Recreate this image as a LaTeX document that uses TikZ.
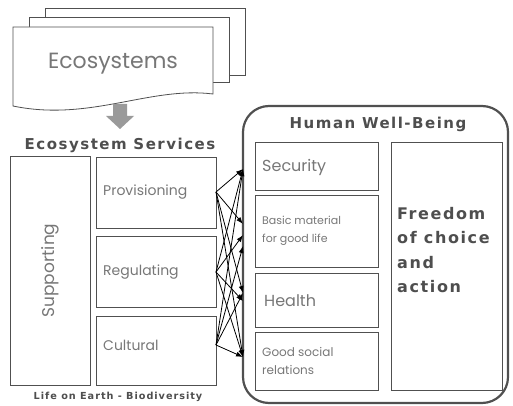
\documentclass[tikz,border=0pt]{standalone}
\usepackage{fontspec}
\setmainfont{Poppins}
\newfontfamily\headfont[LetterSpace=10]{DejaVu Sans}
\usetikzlibrary{arrows.meta}

\definecolor{txtgray}{HTML}{777777}
\definecolor{headgray}{HTML}{4E4E4E}
\definecolor{linegray}{HTML}{505050}
\definecolor{arrowgray}{HTML}{9A9A9A}

\tikzset{
  box/.style={draw=linegray, line width=0.8pt, inner sep=0pt},
  lbl/.style={text=txtgray, align=left, inner sep=0pt},
  head/.style={text=headgray, font=\headfont\bfseries, inner sep=0pt},
  page/.style={draw=linegray, line width=0.8pt, fill=white},
  link/.style={-{Latex[length=7pt,width=5pt]}, line width=0.8pt},
}

\begin{document}
\begin{tikzpicture}[x=1pt, y=-1pt]
  \useasboundingbox (0,0) rectangle (513,406);
  % ecosystems stack
  \draw[page] (45,8) rectangle (245,75);
  \draw[page] (29,17) rectangle (229,82);
  \draw[page] (13,27) -- (213,27) -- (213,94)
    .. controls (150,86) and (90,122) .. (13,106) -- cycle;
  \node[lbl, font=\fontsize{22}{24}\selectfont] (eco) at (113,64) {Ecosystems};
  \fill[arrowgray] (113,104) -- (127,104) -- (127,116) -- (134,116)
    -- (120,129) -- (106,116) -- (113,116) -- cycle;

  % services
  \node[head, font=\headfont\bfseries\fontsize{15}{17}\selectfont] (services) at (120,145) {Ecosystem Services};
  \node[box, minimum width=80, minimum height=229] (supp) at (50,270.5) {};
  \node[lbl, rotate=90, font=\fontsize{17}{19}\selectfont] at (supp) {Supporting};
  \node[box, minimum width=120, minimum height=71] (prov) at (156,192.5) {};
  \node[box, minimum width=120, minimum height=71] (reg) at (156,271.5) {};
  \node[box, minimum width=120, minimum height=69] (cult) at (156,350.5) {};
  \node[lbl, anchor=west, font=\fontsize{14}{16}\selectfont] at (103,192) {Provisioning};
  \node[lbl, anchor=west, font=\fontsize{14}{16}\selectfont] at (103,272) {Regulating};
  \node[lbl, anchor=west, font=\fontsize{14}{16}\selectfont] at (103,345) {Cultural};
  \node[head, font=\headfont\bfseries\fontsize{9.7}{11}\selectfont] (life) at (118,397) {Life on Earth - Biodiversity};

  % well-being
  \draw[linegray, line width=2.2pt, rounded corners=26] (243,106) rectangle (508,403);
  \node[head, font=\headfont\bfseries\fontsize{15}{17}\selectfont] (hwb) at (378,124) {Human Well-Being};
  \node[box, minimum width=123, minimum height=48] (sec) at (316.5,166) {};
  \node[box, minimum width=123, minimum height=72] (basic) at (316.5,231) {};
  \node[box, minimum width=123, minimum height=54] (health) at (316.5,300) {};
  \node[box, minimum width=123, minimum height=58] (social) at (316.5,361) {};
  \node[box, minimum width=111, minimum height=248] (free) at (446.5,266) {};
  \node[lbl, anchor=west, font=\fontsize{16}{18}\selectfont] at (262,167) {Security};
  \node[lbl, anchor=west, font=\fontsize{11}{18}\selectfont] at (262,231) {Basic material\\for good life};
  \node[lbl, anchor=west, font=\fontsize{16}{18}\selectfont] at (264,301) {Health};
  \node[lbl, anchor=west, font=\fontsize{12}{18}\selectfont] at (262,361) {Good social\\relations};
  \node[head, anchor=north west, font=\headfont\bfseries\fontsize{16}{24.5}\selectfont, align=left]
    (freetxt) at (397,207) {Freedom\\of choice\\and\\action};

  % links
  \coordinate (a) at (216,192);
  \coordinate (b) at (216,272);
  \coordinate (c) at (216,345);
  \coordinate (t1) at (243,169);
  \coordinate (t2) at (243,224);
  \coordinate (t3) at (243,235);
  \coordinate (t4) at (243,246);
  \coordinate (t5) at (243,293);
  \coordinate (t6) at (243,301);
  \coordinate (t7) at (243,357);
  \begin{scope}[link]
    \draw (a) to (t1);
    \draw (a) to (t2);
    \draw (a) to (t5);
    \draw (a) to (t7);
    \draw (b) to (t1);
    \draw (b) to (t3);
    \draw (b) to (t6);
    \draw (b) to (t7);
    \draw (c) to (t1);
    \draw (c) to (t4);
    \draw (c) to (t5);
    \draw (c) to (t7);
  \end{scope}
\end{tikzpicture}
\end{document}
